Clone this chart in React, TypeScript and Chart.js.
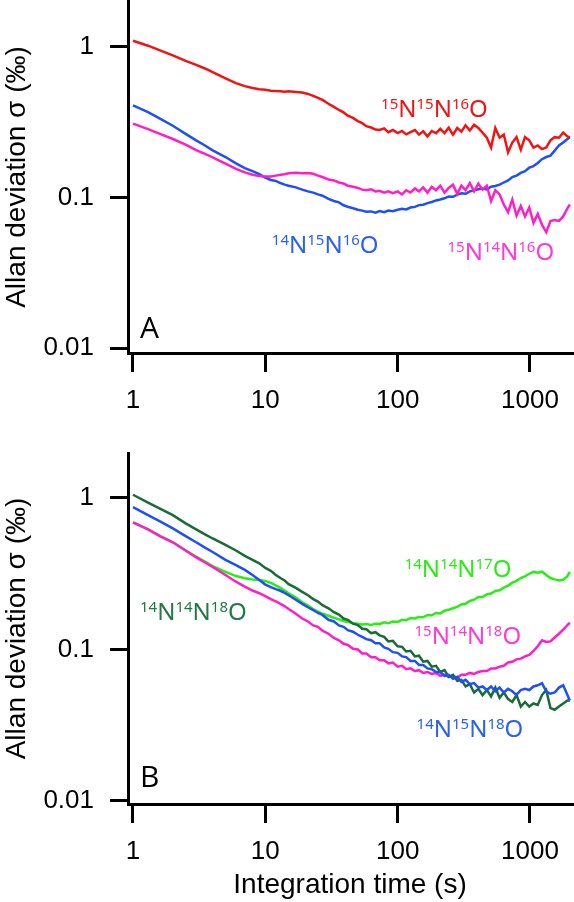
import { useEffect, useRef } from 'react';
import Chart from 'chart.js/auto';

// integration times (s), shared by every trace
const TAU = [
  1, 1.3, 1.6, 2, 2.5, 3, 3.5, 4, 5, 6,
  7, 8, 9, 10, 11, 12, 13, 14, 15, 17,
  19, 21, 23, 25, 27, 30, 33, 36, 39, 42,
  46, 50, 54, 58, 63, 68, 73, 79, 85, 92,
  100, 108, 116, 125, 135, 145, 156, 168, 181, 195,
  210, 226, 243, 262, 282, 303, 326, 351, 378, 407,
  438, 472, 508, 547, 589, 634, 683, 735, 791, 852,
  917, 987, 1063, 1144, 1232, 1326, 1428, 1537, 1655, 1782,
  1918, 2000,
];

// panel A
const A_15N15N16O = [
  1.10, 1.02, 0.95, 0.88, 0.81, 0.76, 0.72, 0.68, 0.62, 0.575,
  0.55, 0.535, 0.525, 0.52, 0.512, 0.51, 0.508, 0.505, 0.508, 0.503,
  0.498, 0.488, 0.474, 0.46, 0.445, 0.42, 0.40, 0.382, 0.368, 0.35,
  0.338, 0.322, 0.312, 0.298, 0.292, 0.283, 0.281, 0.288, 0.272, 0.281,
  0.268, 0.277, 0.263, 0.272, 0.281, 0.262, 0.276, 0.255, 0.277, 0.268,
  0.286, 0.268, 0.291, 0.262, 0.29, 0.274, 0.302, 0.279, 0.305, 0.29,
  0.27, 0.25, 0.215, 0.29, 0.25, 0.262, 0.2, 0.232, 0.252, 0.208,
  0.252, 0.24, 0.215, 0.222, 0.21, 0.215, 0.24, 0.252, 0.25, 0.27,
  0.255, 0.25,
];
const A_14N15N16O = [
  0.41, 0.37, 0.335, 0.30, 0.265, 0.24, 0.222, 0.206, 0.186, 0.169,
  0.157, 0.15, 0.143, 0.136, 0.131, 0.129, 0.125, 0.122, 0.12, 0.117,
  0.113, 0.11, 0.108, 0.105, 0.103, 0.098, 0.095, 0.093, 0.089, 0.087,
  0.085, 0.083, 0.082, 0.0805, 0.081, 0.0795, 0.0815, 0.08, 0.082, 0.0812,
  0.083, 0.0842, 0.0835, 0.086, 0.0868, 0.0892, 0.0898, 0.092, 0.0935, 0.0958,
  0.0972, 0.099, 0.1018, 0.1012, 0.1048, 0.107, 0.106, 0.11, 0.112, 0.1135,
  0.115, 0.1135, 0.118, 0.1195, 0.122, 0.126, 0.13, 0.137, 0.14, 0.146,
  0.15, 0.158, 0.162, 0.17, 0.18, 0.186, 0.19, 0.205, 0.222, 0.232,
  0.245, 0.252,
];
const A_15N14N16O = [
  0.31, 0.285, 0.265, 0.245, 0.225, 0.207, 0.195, 0.185, 0.168, 0.155,
  0.147, 0.142, 0.139, 0.138, 0.138, 0.14, 0.142, 0.143, 0.145, 0.146,
  0.145, 0.1455, 0.144, 0.14, 0.137, 0.132, 0.13, 0.126, 0.124, 0.12,
  0.118, 0.116, 0.113, 0.112, 0.1135, 0.11, 0.111, 0.108, 0.11, 0.107,
  0.11, 0.105, 0.112, 0.108, 0.115, 0.11, 0.117, 0.108, 0.118, 0.112,
  0.12, 0.108, 0.116, 0.122, 0.106, 0.12, 0.112, 0.125, 0.11, 0.124,
  0.113, 0.12, 0.095, 0.112, 0.105, 0.09, 0.08, 0.097, 0.076, 0.088,
  0.075, 0.086, 0.068, 0.078, 0.066, 0.059, 0.07, 0.071, 0.07, 0.075,
  0.085, 0.09,
];

// panel B
const B_14N15N18O = [
  0.87, 0.77, 0.70, 0.63, 0.56, 0.51, 0.47, 0.44, 0.39, 0.36,
  0.335, 0.31, 0.287, 0.268, 0.258, 0.25, 0.244, 0.236, 0.228, 0.213,
  0.2, 0.19, 0.182, 0.174, 0.169, 0.157, 0.153, 0.144, 0.141, 0.134,
  0.131, 0.125, 0.121, 0.117, 0.115, 0.11, 0.11, 0.103, 0.101, 0.096,
  0.095, 0.09, 0.089, 0.084, 0.084, 0.079, 0.079, 0.075, 0.074, 0.071,
  0.071, 0.067, 0.068, 0.064, 0.066, 0.061, 0.063, 0.059, 0.06, 0.056,
  0.057, 0.054, 0.057, 0.053, 0.056, 0.052, 0.055, 0.053, 0.05, 0.054,
  0.055, 0.054, 0.057, 0.058, 0.06, 0.053, 0.051, 0.052, 0.056, 0.058,
  0.05, 0.046,
];
const B_14N14N18O = [
  1.05, 0.93, 0.85, 0.77, 0.68, 0.62, 0.575, 0.54, 0.49, 0.45,
  0.415, 0.39, 0.37, 0.345, 0.33, 0.31, 0.296, 0.285, 0.27, 0.255,
  0.24, 0.228, 0.215, 0.207, 0.196, 0.187, 0.176, 0.17, 0.16, 0.157,
  0.148, 0.145, 0.137, 0.136, 0.128, 0.13, 0.124, 0.121, 0.113, 0.114,
  0.105, 0.104, 0.097, 0.098, 0.09, 0.091, 0.083, 0.084, 0.077, 0.078,
  0.071, 0.073, 0.066, 0.068, 0.062, 0.063, 0.057, 0.059, 0.052, 0.055,
  0.05, 0.054, 0.049, 0.056, 0.048, 0.052, 0.047, 0.045, 0.05, 0.042,
  0.045, 0.042, 0.044, 0.043, 0.05, 0.054, 0.041, 0.04, 0.042, 0.044,
  0.046, 0.046,
];
const B_15N14N18O = [
  0.69, 0.62, 0.56, 0.51, 0.45, 0.405, 0.375, 0.35, 0.31, 0.28,
  0.26, 0.245, 0.235, 0.225, 0.215, 0.208, 0.2, 0.193, 0.185, 0.172,
  0.16, 0.153, 0.144, 0.141, 0.133, 0.127, 0.119, 0.115, 0.109, 0.107,
  0.101, 0.1, 0.094, 0.094, 0.089, 0.089, 0.085, 0.085, 0.081, 0.082,
  0.077, 0.078, 0.074, 0.075, 0.072, 0.073, 0.07, 0.071, 0.069, 0.07,
  0.067, 0.068, 0.066, 0.067, 0.065, 0.068, 0.068, 0.07, 0.069, 0.071,
  0.072, 0.072, 0.075, 0.075, 0.077, 0.078, 0.082, 0.083, 0.086, 0.087,
  0.09, 0.092, 0.098, 0.105, 0.115, 0.112, 0.113, 0.12, 0.127, 0.135,
  0.145, 0.15,
];
const B_14N14N17O = [
  0.69, 0.62, 0.56, 0.51, 0.45, 0.41, 0.38, 0.355, 0.325, 0.305,
  0.295, 0.29, 0.287, 0.283, 0.275, 0.265, 0.255, 0.245, 0.235, 0.22,
  0.205, 0.195, 0.185, 0.178, 0.172, 0.167, 0.162, 0.158, 0.154, 0.152,
  0.149, 0.148, 0.146, 0.147, 0.145, 0.148, 0.147, 0.151, 0.149, 0.153,
  0.152, 0.157, 0.156, 0.161, 0.16, 0.164, 0.163, 0.169, 0.168, 0.174,
  0.173, 0.18, 0.183, 0.187, 0.191, 0.198, 0.2, 0.209, 0.213, 0.222,
  0.222, 0.231, 0.234, 0.243, 0.246, 0.256, 0.264, 0.276, 0.284, 0.296,
  0.304, 0.316, 0.325, 0.321, 0.326, 0.31, 0.296, 0.29, 0.285, 0.288,
  0.305, 0.325,
];

const X_TICKS = [1, 10, 100, 1000];
const Y_TICKS = [0.01, 0.1, 1];

const RED = '#f01414';
const BLUE = '#1e50f5';
const MAGENTA = '#ff1ec8';
const GREEN = '#28ee14';
const DKGREEN = '#1b6b36';

type IsoLabel = { text: string; x: number; y: number; color: string };

// label text is "mass + element" pairs; x = left edge, y = vertical centre
const LABELS_A: IsoLabel[] = [
  { text: '15N15N16O', x: 75, y: 0.39, color: RED },
  { text: '14N15N16O', x: 11.2, y: 0.049, color: '#2a62ee' },
  { text: '15N14N16O', x: 238, y: 0.0437, color: '#ff3acf' },
];
const LABELS_B: IsoLabel[] = [
  { text: '14N14N17O', x: 113, y: 0.34, color: GREEN },
  { text: '15N14N18O', x: 134, y: 0.123, color: '#ff3acf' },
  { text: '14N15N18O', x: 139, y: 0.0303, color: '#2a62ee' },
  { text: '14N14N18O', x: 1.13, y: 0.177, color: '#1f7a45' },
];

function pts(ys: number[]) {
  return TAU.map((x, i) => ({ x, y: ys[i] }));
}

function line(ys: number[], color: string) {
  return { data: pts(ys), borderColor: color, borderWidth: 2.5, pointRadius: 0, fill: false, tension: 0 };
}

function labelPlugin(labels: IsoLabel[], letter: { text: string; x: number; y: number }) {
  return {
    id: 'isoLabels',
    afterDatasetsDraw(chart: any) {
      const { ctx, scales } = chart;
      ctx.save();
      ctx.textAlign = 'left';
      ctx.textBaseline = 'alphabetic';
      for (const lab of labels) {
        let px = scales.x.getPixelForValue(lab.x);
        const base = scales.y.getPixelForValue(lab.y) + 8.5;
        ctx.fillStyle = lab.color;
        for (const m of lab.text.matchAll(/(\d+)([A-Z])/g)) {
          ctx.font = '15px "Noto Sans"';
          ctx.fillText(m[1], px, base - 8);
          px += ctx.measureText(m[1]).width;
          ctx.font = '24px "Noto Sans"';
          ctx.fillText(m[2], px, base);
          px += ctx.measureText(m[2]).width;
        }
      }
      ctx.fillStyle = '#000';
      ctx.font = '30px "Open Sans"';
      ctx.textBaseline = 'middle';
      ctx.fillText(letter.text, scales.x.getPixelForValue(letter.x), scales.y.getPixelForValue(letter.y));
      ctx.restore();
    },
  };
}

interface PanelProps {
  datasets: any[];
  labels: IsoLabel[];
  letter: { text: string; x: number; y: number };
  yMin: number;
  yMax: number;
  padTop: number;
  xHeight: number;
  xTitle: boolean;
}

function Panel({ datasets, labels, letter, yMin, yMax, padTop, xHeight, xTitle }: PanelProps) {
  const canvasRef = useRef<HTMLCanvasElement>(null);

  useEffect(() => {
    if (!canvasRef.current) return;
    const axisGrid = { drawOnChartArea: false, drawTicks: true, lineWidth: 3, color: '#000' };
    const axisBorder = { display: true, color: '#000', width: 3 };
    const tickFont = { family: 'Liberation Sans', size: 26 };
    const titleFont = { family: 'Liberation Sans', size: 28 };

    const chart = new Chart(canvasRef.current, {
      type: 'line',
      data: { datasets },
      options: {
        animation: false,
        responsive: true,
        maintainAspectRatio: false,
        layout: { padding: { top: padTop, right: 2, left: 0, bottom: 0 } },
        plugins: { legend: { display: false }, tooltip: { enabled: false } },
        scales: {
          x: {
            type: 'logarithmic',
            min: 0.917,
            max: 2077,
            afterBuildTicks: (s: any) => { s.ticks = X_TICKS.map(value => ({ value })); },
            afterFit: (s: any) => { s.height = xHeight; s.paddingLeft = 0; s.paddingRight = 0; },
            grid: { ...axisGrid, tickLength: 19 },
            border: axisBorder,
            ticks: { color: '#000', padding: 13, maxRotation: 0, autoSkip: false, font: tickFont, callback: (v: any) => String(v) },
            title: { display: xTitle, text: 'Integration time (s)', color: '#000', font: titleFont, padding: 0 },
          },
          y: {
            type: 'logarithmic',
            min: yMin,
            max: yMax,
            afterBuildTicks: (s: any) => { s.ticks = Y_TICKS.map(value => ({ value })); },
            afterFit: (s: any) => { s.width = 128; s.paddingTop = 0; s.paddingBottom = 0; },
            grid: { ...axisGrid, tickLength: 18 },
            border: axisBorder,
            ticks: { color: '#000', padding: 16, autoSkip: false, font: tickFont, callback: (v: any) => String(v) },
            title: { display: true, text: 'Allan deviation σ (‰)', color: '#000', font: titleFont, padding: 0 },
          },
        },
      },
      plugins: [labelPlugin(labels, letter)],
    });

    return () => chart.destroy();
  }, [datasets, labels, letter, yMin, yMax, padTop, xHeight, xTitle]);

  return <canvas ref={canvasRef} />;
}

const DATA_A = [
  line(A_15N15N16O, RED),
  line(A_15N14N16O, MAGENTA),
  line(A_14N15N16O, BLUE),
];
const DATA_B = [
  line(B_14N15N18O, BLUE),
  line(B_14N14N18O, DKGREEN),
  line(B_15N14N18O, MAGENTA),
  line(B_14N14N17O, GREEN),
];
const LETTER_A = { text: 'A', x: 1.13, y: 0.0134 };
const LETTER_B = { text: 'B', x: 1.13, y: 0.014 };

export default function App() {
  return (
    <div style={{ position: 'absolute', left: 0, top: 0, width: 574, height: 902, background: '#fff' }}>
      <div style={{ position: 'absolute', left: 0, top: 0, width: 574, height: 440 }}>
        <Panel datasets={DATA_A} labels={LABELS_A} letter={LETTER_A} yMin={0.0093} yMax={2.02} padTop={1} xHeight={87} xTitle={false} />
      </div>
      <div style={{ position: 'absolute', left: 0, top: 440, width: 574, height: 462 }}>
        <Panel datasets={DATA_B} labels={LABELS_B} letter={LETTER_B} yMin={0.00955} yMax={1.98} padTop={13} xHeight={98} xTitle={true} />
      </div>
    </div>
  );
}
